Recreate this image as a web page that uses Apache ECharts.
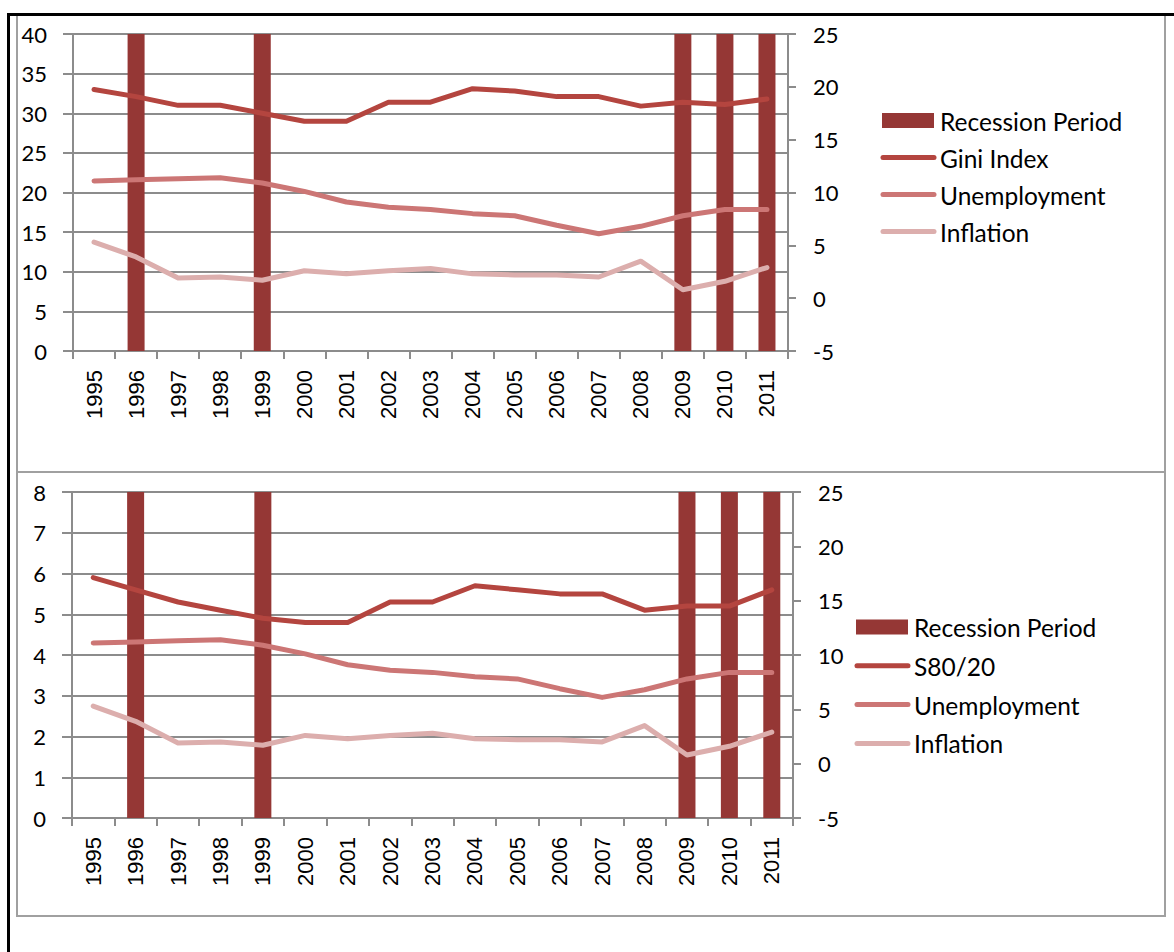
<!DOCTYPE html>
<html>
<head>
<meta charset="utf-8">
<script src="https://cdn.jsdelivr.net/npm/echarts@6/dist/echarts.min.js"></script>
<style>
  html, body { margin: 0; padding: 0; background: #ffffff; }
  #chart { width: 1174px; height: 952px; }
</style>
</head>
<body>
<div id="chart"></div>
<script>
// Italy, 1995-2011: inequality measures against unemployment and inflation
const years = ['1995', '1996', '1997', '1998', '1999', '2000', '2001', '2002', '2003',
               '2004', '2005', '2006', '2007', '2008', '2009', '2010', '2011'];

const giniIndex = [33.0, 32.1, 31.0, 31.0, 30.0, 29.0, 29.0, 31.4, 31.4,
                   33.1, 32.8, 32.1, 32.1, 30.9, 31.4, 31.1, 31.8];

const s8020 = [5.9, 5.6, 5.3, 5.1, 4.9, 4.8, 4.8, 5.3, 5.3,
               5.7, 5.6, 5.5, 5.5, 5.1, 5.2, 5.2, 5.6];

const unemployment = [11.1, 11.2, 11.3, 11.4, 10.9, 10.1, 9.1, 8.6, 8.4,
                      8.0, 7.8, 6.9, 6.1, 6.8, 7.8, 8.4, 8.4];

const inflation = [5.3, 3.9, 1.9, 2.0, 1.7, 2.6, 2.3, 2.6, 2.8,
                   2.3, 2.2, 2.2, 2.0, 3.5, 0.8, 1.6, 2.9];

// recession years drawn as full-height bars on each left axis
const recessionGini = ['-', 40, '-', '-', 40, '-', '-', '-', '-',
                       '-', '-', '-', '-', '-', 40, 40, 40];
const recessionS8020 = ['-', 8, '-', '-', 8, '-', '-', '-', '-',
                        '-', '-', '-', '-', '-', 8, 8, 8];

const legendTop = ['Recession Period', 'Gini Index', 'Unemployment', 'Inflation'];
const legendBottom = ['Recession Period', 'S80/20', 'Unemployment', 'Inflation'];

const giniTicks = { min: 0, max: 40, interval: 5 };
const s8020Ticks = { min: 0, max: 8, interval: 1 };
const rateTicks = { min: -5, max: 25, interval: 5 };

const COLORS = {
  recession: '#953735',
  main: '#b4453f',
  unemployment: '#cc7675',
  inflation: '#dcaead',
  grid: '#8c8c8c',
  frame: '#a0a0a0'
};
const numFont = 'Lato';
const yearFont = 'Liberation Sans';
const legendColors = [COLORS.recession, COLORS.main, COLORS.unemployment, COLORS.inflation];

function catAxis(gridIndex) {
  return {
    type: 'category', gridIndex, data: years, boundaryGap: true,
    axisLine: { lineStyle: { color: COLORS.grid, width: 2 } },
    axisTick: { show: true, interval: 0, length: 8, lineStyle: { color: COLORS.grid, width: 2 } },
    axisLabel: { interval: 0, rotate: 90, margin: 19, color: '#000',
                 fontFamily: yearFont, fontSize: 22 },
    splitLine: { show: false }
  };
}
function leftAxis(gridIndex, ticks) {
  return Object.assign({
    type: 'value', gridIndex, position: 'left',
    axisLine: { show: true, lineStyle: { color: COLORS.grid, width: 2 } },
    axisTick: { show: true, length: 10, lineStyle: { color: COLORS.grid, width: 2 } },
    axisLabel: { margin: 26, color: '#000', fontFamily: numFont, fontSize: 22 },
    splitLine: { show: true, lineStyle: { color: COLORS.grid, width: 2 } }
  }, ticks);
}
function rightAxis(gridIndex, ticks) {
  return Object.assign({
    type: 'value', gridIndex, position: 'right',
    axisLine: { show: true, lineStyle: { color: COLORS.grid, width: 2 } },
    axisTick: { show: true, length: 8, lineStyle: { color: COLORS.grid, width: 2 } },
    axisLabel: { margin: 25, color: '#000', fontFamily: numFont, fontSize: 22 },
    splitLine: { show: false }
  }, ticks);
}
function lineSeries(name, data, color, xi, yi) {
  return {
    name, type: 'line', data, xAxisIndex: xi, yAxisIndex: yi,
    symbol: 'none', smooth: false,
    lineStyle: { color, width: 5, cap: 'round', join: 'round' },
    itemStyle: { color }
  };
}

// Key drawn beside each plot: a swatch for the bars, thick strokes for the lines
function legendGraphics(names, iconLeft, firstY, step) {
  const out = [];
  names.forEach((name, i) => {
    const cy = firstY + i * step;
    if (i === 0) {
      out.push({ type: 'rect', shape: { x: iconLeft, y: cy - 7.5, width: 52, height: 15 },
                 style: { fill: legendColors[i] }, z: 5 });
    } else {
      out.push({ type: 'line', shape: { x1: iconLeft + 1, y1: cy, x2: iconLeft + 52, y2: cy },
                 style: { stroke: legendColors[i], lineWidth: 5, lineCap: 'round' }, z: 5 });
    }
    out.push({ type: 'text', x: iconLeft + 58, y: cy + 0.5, z: 5,
               style: { text: name, fill: '#000', font: '24.5px Lato',
                        verticalAlign: 'middle', align: 'left' } });
  });
  return out;
}

const chart = echarts.init(document.getElementById('chart'), null, { renderer: 'svg' });
chart.setOption({
  animation: false,
  backgroundColor: '#ffffff',
  grid: [
    { left: 73, top: 34, width: 715, height: 317 },
    { left: 72, top: 492, width: 721, height: 326 }
  ],
  xAxis: [catAxis(0), catAxis(1)],
  yAxis: [
    leftAxis(0, giniTicks), rightAxis(0, rateTicks),
    leftAxis(1, s8020Ticks), rightAxis(1, rateTicks)
  ],
  series: [
    { name: 'Recession Period', type: 'bar', data: recessionGini, xAxisIndex: 0, yAxisIndex: 0,
      barWidth: 17, itemStyle: { color: COLORS.recession } },
    lineSeries('Gini Index', giniIndex, COLORS.main, 0, 0),
    lineSeries('Unemployment', unemployment, COLORS.unemployment, 0, 1),
    lineSeries('Inflation', inflation, COLORS.inflation, 0, 1),

    { name: 'Recession Period', type: 'bar', data: recessionS8020, xAxisIndex: 1, yAxisIndex: 2,
      barWidth: 17, itemStyle: { color: COLORS.recession } },
    lineSeries('S80/20', s8020, COLORS.main, 1, 2),
    lineSeries('Unemployment', unemployment, COLORS.unemployment, 1, 3),
    lineSeries('Inflation', inflation, COLORS.inflation, 1, 3)
  ],
  graphic: [
    // table cell frames
    { type: 'rect', shape: { x: 17, y: 15, width: 1148, height: 457 }, z: 0,
      style: { fill: null, stroke: COLORS.frame, lineWidth: 2 } },
    { type: 'rect', shape: { x: 17, y: 472, width: 1148, height: 444 }, z: 0,
      style: { fill: null, stroke: COLORS.frame, lineWidth: 2 } },
    // outer table rules
    { type: 'line', shape: { x1: 7, y1: 14.5, x2: 1174, y2: 14.5 }, z: 1,
      style: { stroke: '#000', lineWidth: 3 } },
    { type: 'line', shape: { x1: 8.5, y1: 13, x2: 8.5, y2: 952 }, z: 1,
      style: { stroke: '#000', lineWidth: 3 } }
  ].concat(legendGraphics(legendTop, 882, 120.5, 37))
   .concat(legendGraphics(legendBottom, 856, 627, 38.8))
});
</script>
</body>
</html>
